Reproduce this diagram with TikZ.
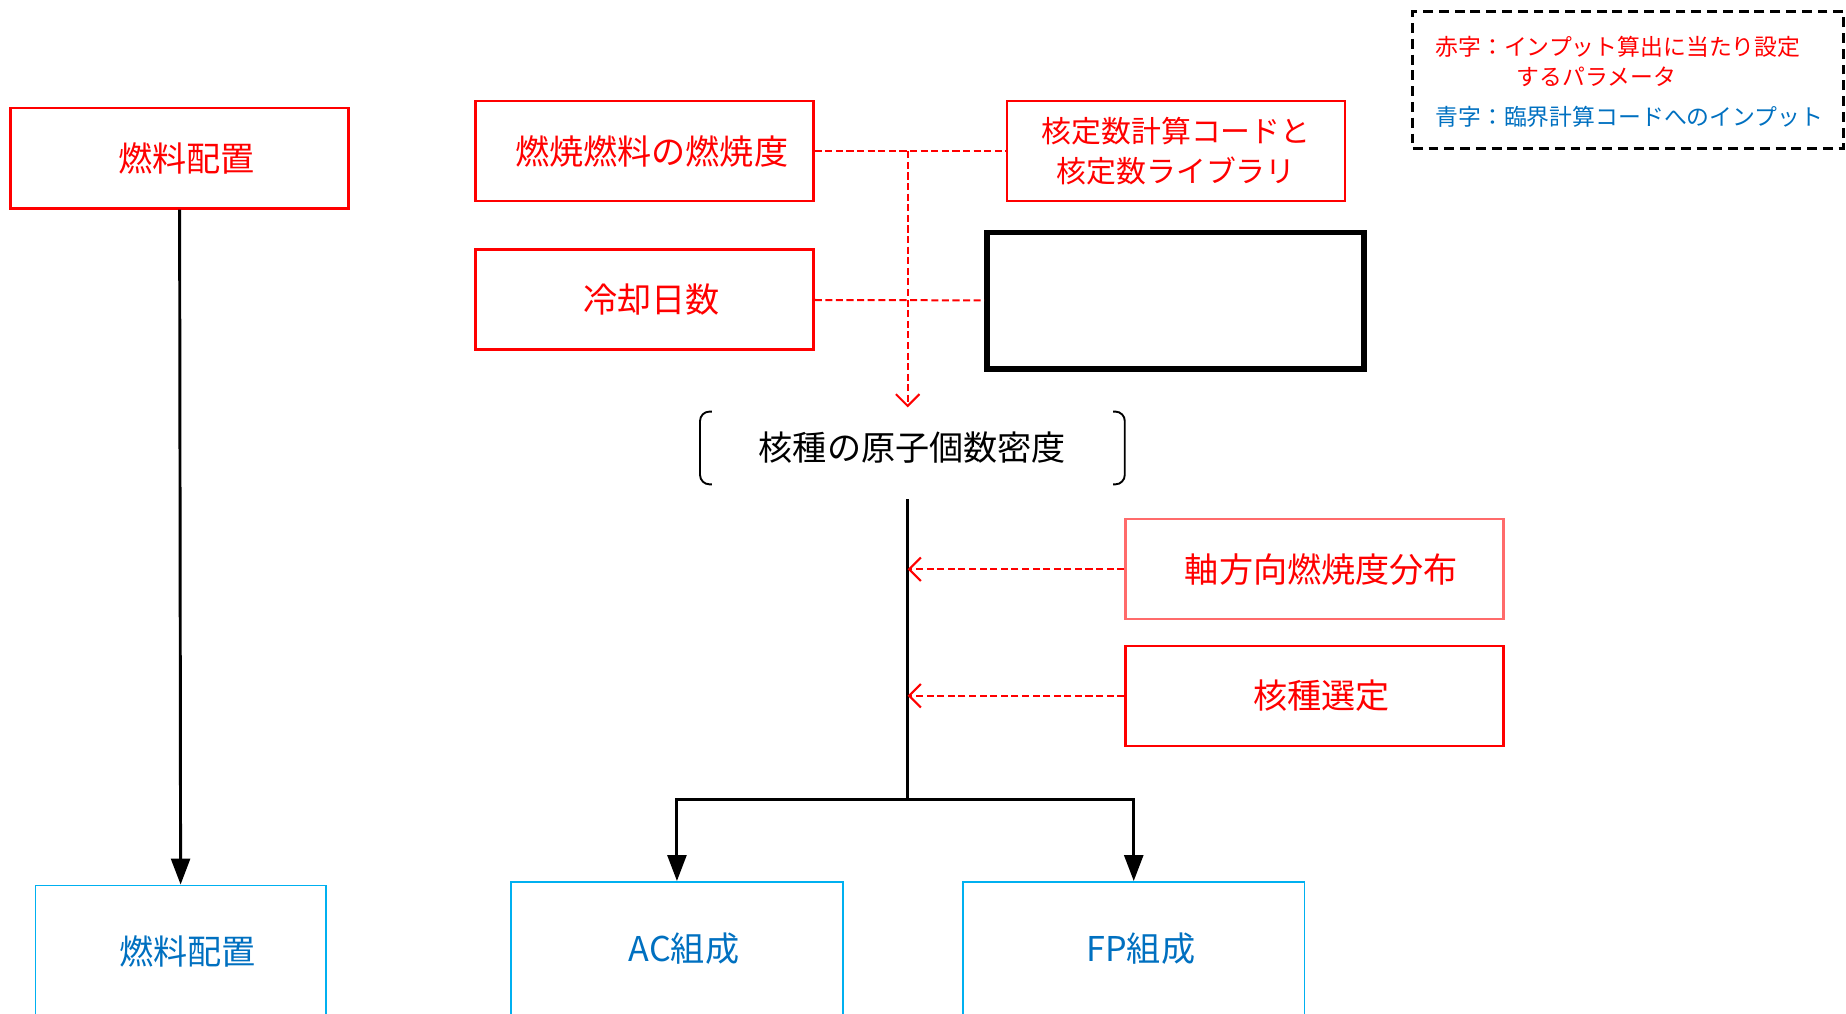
\documentclass[tikz,border=0pt]{standalone}
\usepackage{fontspec}
\setmainfont{Noto Sans CJK JP}
\usepackage{xcolor}
\usetikzlibrary{arrows.meta,positioning}
\definecolor{inred}{HTML}{FF0000}
\definecolor{inpink}{HTML}{FF6B6B}
\definecolor{outline}{HTML}{00B0F0}
\definecolor{outtext}{HTML}{0070C0}
\tikzset{
    redbox/.style={draw=inred, line width=1pt, text=inred, minimum width=143.5pt, minimum height=42.5pt, font=\fontsize{14.5}{17}\selectfont},
    parambox/.style={redbox, execute at begin node=\hspace*{6pt}},
    libbox/.style={redbox, align=center, font=\fontsize{12.7}{17}\selectfont},
    inputbox/.style={draw=outline, line width=0.65pt, text=outtext, minimum height=57pt, font=\fontsize{14.5}{17}\selectfont, execute at begin node=\hspace*{6pt}},
    feed/.style={draw=inred, line width=0.85pt, dash pattern=on 3pt off 1.5pt},
    feedarrow/.style={feed, -{Straight Barb[length=5pt,width=10pt]}},
    wire/.style={draw=black, line width=1.25pt},
    flow/.style={wire, -{Triangle[length=11pt,width=8pt]}},
    bracket/.style={draw=black, line width=0.8pt, rounded corners=4pt},
    keytext/.style={anchor=west, inner sep=0pt, font=\fontsize{9.7}{12}\selectfont}
}
\begin{document}
\begin{tikzpicture}[x=0.5pt, y=-0.5pt]
            \useasboundingbox (0,0) rectangle (1568,861);
            \clip (0,0) rectangle (1568,861);
            \node[parambox] (fuel) at (152.5,134.5) {燃料配置};
            \node[parambox] (burnup) at (547.5,128.5) {燃焼燃料の燃焼度};
            \node[parambox] (cooling) at (547.5,254.5) {冷却日数};
            \node[libbox] (library) at (999,128.5) {核定数計算コードと\\核定数ライブラリ};
            \node[draw, line width=2.5pt, minimum width=160pt, minimum height=58pt] (blank) at (998.5,255.5) {};
            \node[minimum width=180pt, minimum height=30.5pt, font=\fontsize{14.5}{17}\selectfont] (density) at (775,380.5) {核種の原子個数密度};
            \node[parambox, draw=inpink, minimum width=160.5pt] (axial) at (1116.5,483.5) {軸方向燃焼度分布};
            \node[parambox, minimum width=160.5pt] (nuclide) at (1116.5,591) {核種選定};
            \node[inputbox, minimum width=123.5pt, minimum height=56pt] (fuelout) at (153.5,808) {燃料配置};
            \node[inputbox, minimum width=141pt] (acout) at (575,806) {AC組成};
            \node[inputbox, minimum width=145pt] (fpout) at (963,806) {FP組成};
            \coordinate (tee) at (771,128.5);
            \coordinate (drop) at (771,346);
            \coordinate (trunk) at (771,424);
            \coordinate (split) at (771,679);
            \draw[bracket] ([xshift=5pt]density.north west) -- (density.north west) -- (density.south west) -- ([xshift=5pt]density.south west);
            \draw[bracket] ([xshift=-5pt]density.north east) -- (density.north east) -- (density.south east) -- ([xshift=-5pt]density.south east);
            \draw[feed] (burnup) -- (library);
            \draw[feedarrow] (tee) -- (drop);
            \draw[feed] (cooling) -- (blank);
            \draw[wire] (trunk) -- (split);
            \draw[feedarrow] (axial) -- (axial -| trunk);
            \draw[feedarrow] (nuclide) -- (nuclide -| trunk);
            \draw[flow] (split) -| (acout);
            \draw[flow] (split) -| (fpout);
            \draw[flow] (fuel) -- (fuelout);
            \node[draw, line width=1.15pt, dash pattern=on 4.2pt off 2.5pt, minimum width=183pt, minimum height=58pt] (legend) at (1383,68) {};
            \node[keytext, text=inred] (redkey) at (1219,40) {赤字：インプット算出に当たり設定};
            \node[keytext, text=inred] (redkey2) at (1288,65) {するパラメータ};
            \node[keytext, text=outtext] (bluekey) at (1219,99) {青字：臨界計算コードへのインプット};
\end{tikzpicture}
\end{document}
